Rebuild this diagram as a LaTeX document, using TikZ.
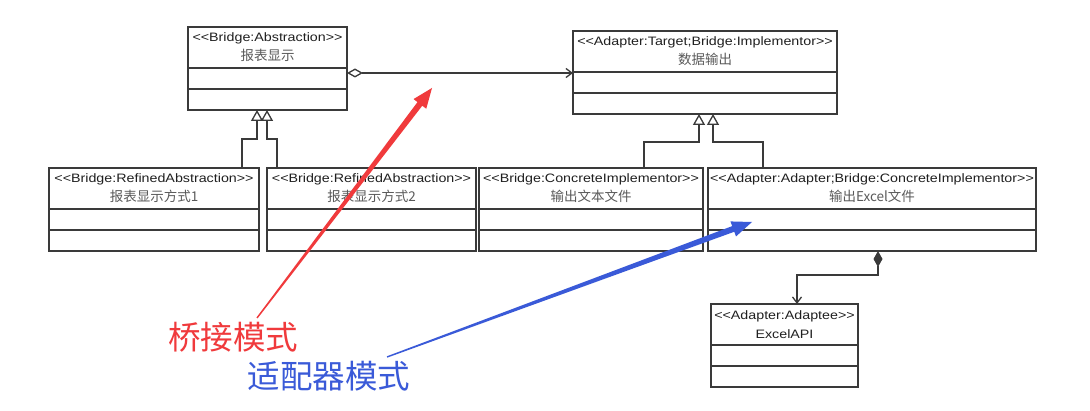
\documentclass[tikz,border=0pt]{standalone}
\usepackage{fontspec}
\usepackage{tikz}
\usetikzlibrary{arrows.meta,positioning,calc}
\usepackage{xcolor}
\definecolor{umlline}{HTML}{3A3A3A}
\definecolor{umltext}{HTML}{202020}
\definecolor{namegray}{HTML}{5A5A5A}
\definecolor{bridgered}{HTML}{F03A3C}
\definecolor{adapterblue}{HTML}{3A5AD8}
\newfontfamily\umlfont{Liberation Sans}[FakeStretch=1.17]
\newfontfamily\cjkfont{Noto Sans CJK SC}

\tikzset{
  classhead/.style={draw=umlline, line width=1.3pt, inner sep=0pt, outer sep=0pt,
    minimum height=41pt, anchor=north west, align=center, text=umltext,
    font=\umlfont\fontsize{12.2}{19}\selectfont},
  classpart/.style={draw=umlline, line width=1.3pt, inner sep=0pt, outer sep=0pt, minimum height=21pt},
  gen/.style={draw=umlline, line width=1.3pt, -{Triangle[open, length=11pt, width=12pt, fill=white]}},
  agg/.style={draw=umlline, line width=1.3pt,
    {Diamond[open, length=16pt, width=9pt, fill=white]}-{Straight Barb[length=6pt, width=9pt]}},
  comp/.style={draw=umlline, line width=1.3pt,
    {Diamond[length=16pt, width=9pt]}-{Straight Barb[length=6pt, width=9pt]}},
  patternlabel/.style={inner sep=0pt, font=\cjkfont\fontsize{32.5}{33}\selectfont}
}

% class name in the gray CJK face
\newcommand{\cname}[1]{{\cjkfont\fontsize{13.5}{19}\selectfont\color{namegray}#1}}

% class box: head + two empty compartments
\newcommand{\classbox}[5]{%
  \node[classhead, minimum width=#3] (#1) at (#2) {#4\\#5};
  \node[classpart, minimum width=#3, below=0pt of #1] (#1a) {};
  \node[classpart, minimum width=#3, below=0pt of #1a] (#1b) {};
}

% tapered annotation arrow
\newcommand{\notearrow}[3]{%
  \coordinate (hb) at ($(#3)!20pt!(#2)$);
  \fill[#1] ($(#2)!0.7pt!90:(#3)$) -- ($(hb)!3pt!90:(#3)$) -- ($(hb)!8pt!90:(#3)$)
    -- (#3) -- ($(hb)!8pt!-90:(#3)$) -- ($(hb)!3pt!-90:(#3)$) -- ($(#2)!0.7pt!-90:(#3)$) -- cycle;
}

\begin{document}
\begin{tikzpicture}[x=1pt, y=-1pt]
  \fill[white] (0,0) rectangle (1090,411);
  \useasboundingbox (0,0) rectangle (1090,411);

  % classes
  \classbox{abs}{188,27}{159pt}{<<Bridge:Abstraction>>}{\cname{报表显示}}
  \classbox{impl}{573,31}{264pt}{<<Adapter:Target;Bridge:Implementor>>}{\cname{数据输出}}
  \classbox{ref1}{49,168}{210pt}{<<Bridge:RefinedAbstraction>>}{\cname{报表显示方式1}}
  \classbox{ref2}{267,168}{209pt}{<<Bridge:RefinedAbstraction>>}{\cname{报表显示方式2}}
  \classbox{ci1}{479,168}{224pt}{<<Bridge:ConcreteImplementor>>}{\cname{输出文本文件}}
  \classbox{ci2}{708,168}{328pt}{<<Adapter:Adapter;Bridge:ConcreteImplementor>>}{\cname{输出Excel文件}}
  \classbox{api}{711,304}{147pt}{<<Adapter:Adaptee>>}{ExcelAPI}

  % generalizations
  \coordinate (absg1) at ([xshift=69pt]absb.south west);
  \coordinate (absg2) at ([xshift=79pt]absb.south west);
  \coordinate (implg1) at ([xshift=126pt]implb.south west);
  \coordinate (implg2) at ([xshift=140pt]implb.south west);
  \draw[gen] ([xshift=-17pt]ref1.north east) |- ([yshift=-29pt]absg1) -- (absg1);
  \draw[gen] ([xshift=10pt]ref2.north west) |- ([yshift=-29pt]absg2) -- (absg2);
  \draw[gen] ([xshift=165pt]ci1.north west) |- ([yshift=-28pt]implg1) -- (implg1);
  \draw[gen] ([xshift=55pt]ci2.north west) |- ([yshift=-28pt]implg2) -- (implg2);

  % aggregation and composition
  \draw[agg] ([yshift=-5pt]absa.north east) -- ([yshift=-5pt]absa.north east -| impl.west);
  \draw[comp] ([xshift=170pt]ci2b.south west) |- ([xshift=86pt,yshift=29pt]api.north west)
    -- ([xshift=86pt]api.north west);

  % pattern notes
  \node[patternlabel, text=bridgered] (bridgelbl) at (233,337) {桥接模式};
  \node[patternlabel, text=adapterblue] (adapterlbl) at (329,376) {适配器模式};
  \coordinate (bridgefrom) at ([xshift=24pt,yshift=19pt]bridgelbl.center);
  \coordinate (bridgetip) at (432,88);
  \coordinate (adapterfrom) at ([xshift=58pt,yshift=19pt]adapterlbl.center);
  \coordinate (adaptertip) at (752,222);
  \notearrow{bridgered}{bridgefrom}{bridgetip}
  \notearrow{adapterblue}{adapterfrom}{adaptertip}
\end{tikzpicture}
\end{document}
